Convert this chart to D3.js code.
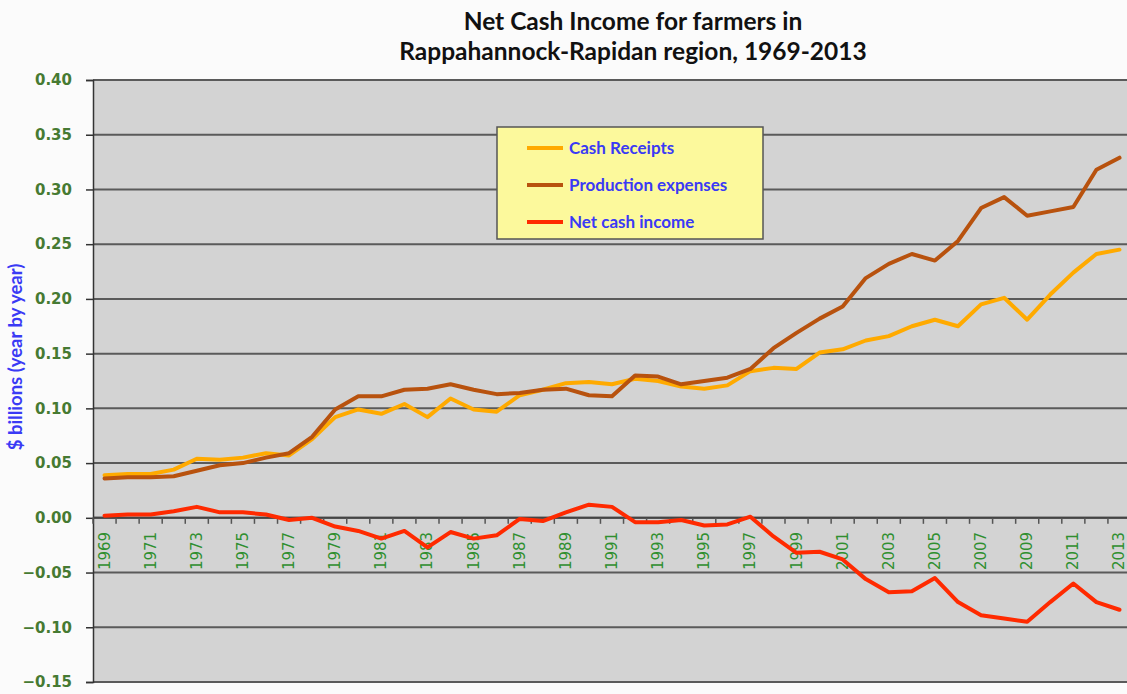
<!DOCTYPE html>
<html>
<head>
<meta charset="utf-8">
<script src="https://cdn.jsdelivr.net/npm/d3@7/dist/d3.min.js"></script>
<style>
  html, body { margin: 0; padding: 0; background: #fbfbfb; }
  svg { display: block; }
</style>
</head>
<body>
<svg id="chart" width="1127" height="694"></svg>
<script>
// Farm income, Rappahannock-Rapidan region ($ billions)
const years = d3.range(1969, 2014);

const cashReceipts = [
  0.039, 0.040, 0.040, 0.044, 0.054, 0.053, 0.055, 0.059, 0.057, 0.072,
  0.092, 0.099, 0.095, 0.104, 0.092, 0.109, 0.099, 0.097, 0.112, 0.117,
  0.123, 0.124, 0.122, 0.127, 0.125, 0.120, 0.118, 0.121, 0.134, 0.137,
  0.136, 0.151, 0.154, 0.162, 0.166, 0.175, 0.181, 0.175, 0.195, 0.201,
  0.181, 0.204, 0.224, 0.241, 0.245
];

const productionExpenses = [
  0.036, 0.037, 0.037, 0.038, 0.043, 0.048, 0.050, 0.055, 0.059, 0.074,
  0.099, 0.111, 0.111, 0.117, 0.118, 0.122, 0.117, 0.113, 0.114, 0.117,
  0.118, 0.112, 0.111, 0.130, 0.129, 0.122, 0.125, 0.128, 0.136, 0.155,
  0.169, 0.182, 0.193, 0.219, 0.232, 0.241, 0.235, 0.253, 0.283, 0.293,
  0.276, 0.280, 0.284, 0.318, 0.329
];

const netCashIncome = [
  0.002, 0.003, 0.003, 0.006, 0.010, 0.005, 0.005, 0.003, -0.002, 0.000,
  -0.008, -0.012, -0.019, -0.012, -0.027, -0.013, -0.019, -0.016, -0.001, -0.003,
  0.005, 0.012, 0.010, -0.004, -0.004, -0.002, -0.007, -0.006, 0.001, -0.017,
  -0.032, -0.031, -0.038, -0.056, -0.068, -0.067, -0.055, -0.077, -0.089, -0.092,
  -0.095, -0.077, -0.060, -0.077, -0.084
];

const seriesNames = ["Cash Receipts", "Production expenses", "Net cash income"];
const seriesColors = ["#ffaa00", "#b8520e", "#ff2a00"];
const yTicks = [-0.15, -0.10, -0.05, 0.00, 0.05, 0.10, 0.15, 0.20, 0.25, 0.30, 0.35, 0.40];
const titleLines = ["Net Cash Income for farmers in", "Rappahannock-Rapidan region, 1969-2013"];
const yTitle = "$ billions (year by year)";

const series = [cashReceipts, productionExpenses, netCashIncome].map((vals, i) => ({
  name: seriesNames[i],
  color: seriesColors[i],
  values: vals.map((v, j) => ({ year: years[j], value: v }))
}));

const svg = d3.select("#chart");
const plot = { left: 93, top: 80, right: 1131, bottom: 682 };

const x = d3.scaleBand()
  .domain(years)
  .range([plot.left, plot.right])
  .paddingInner(0).paddingOuter(0);

const y = d3.scaleLinear()
  .domain([-0.15, 0.40])
  .range([plot.bottom, plot.top]);

const cx = d => x(d) + x.bandwidth() / 2;

// Title
svg.append("g")
  .selectAll("text")
  .data(titleLines)
  .join("text")
  .attr("x", 633)
  .attr("y", (d, i) => 30 + i * 30)
  .attr("text-anchor", "middle")
  .attr("font-family", "Lato, 'Open Sans', sans-serif")
  .attr("font-weight", "bold")
  .attr("font-size", 24.5)
  .attr("fill", "#111")
  .text(d => d);

// Plot background
svg.append("rect")
  .attr("x", plot.left)
  .attr("y", plot.top)
  .attr("width", plot.right - plot.left)
  .attr("height", plot.bottom - plot.top)
  .attr("fill", "#d3d3d3");

// Horizontal gridlines
svg.append("g")
  .selectAll("line")
  .data(yTicks)
  .join("line")
  .attr("x1", plot.left)
  .attr("x2", plot.right)
  .attr("y1", d => y(d))
  .attr("y2", d => y(d))
  .attr("stroke", "#5a5a5a")
  .attr("stroke-width", 2);

// Y axis
const yAxis = d3.axisLeft(y)
  .tickValues(yTicks)
  .tickFormat(d3.format(".2f"))
  .tickSize(7)
  .tickPadding(14);

const gy = svg.append("g")
  .attr("transform", `translate(${plot.left},0)`)
  .call(yAxis);
gy.select(".domain").attr("stroke", "#333").attr("stroke-width", 1.5);
gy.selectAll(".tick line").attr("stroke", "#333").attr("stroke-width", 1.5);
gy.selectAll(".tick text")
  .attr("font-family", "'DejaVu Sans', sans-serif")
  .attr("font-weight", "bold")
  .attr("font-size", 15)
  .attr("fill", "#467a32");

// Y axis title
svg.append("text")
  .attr("transform", `translate(22,357) rotate(-90)`)
  .attr("text-anchor", "middle")
  .attr("font-family", "Lato, 'Open Sans', sans-serif")
  .attr("font-weight", "bold")
  .attr("font-size", 18.5)
  .attr("fill", "#3a3af5")
  .text(yTitle);

// X axis along zero line: ticks at category boundaries, labels every other year
const gx = svg.append("g")
  .attr("transform", `translate(0,${y(0)})`);

gx.append("line")
  .attr("x1", plot.left).attr("x2", plot.right)
  .attr("stroke", "#444").attr("stroke-width", 2);

gx.selectAll("line.tick")
  .data(years)
  .join("line")
  .attr("class", "tick")
  .attr("x1", d => x(d))
  .attr("x2", d => x(d))
  .attr("y1", 0)
  .attr("y2", 6)
  .attr("stroke", "#555")
  .attr("stroke-width", 1.5);

gx.selectAll("text")
  .data(years.filter((d, i) => i % 2 === 0))
  .join("text")
  .attr("transform", d => `translate(${cx(d) + 5},${14}) rotate(-90)`)
  .attr("text-anchor", "end")
  .attr("font-family", "'DejaVu Sans', sans-serif")
  .attr("font-size", 15)
  .attr("fill", "#2f8f2f")
  .text(d => d);

// Series lines
const line = d3.line()
  .x(d => cx(d.year))
  .y(d => y(d.value));

svg.append("g")
  .selectAll("path")
  .data(series)
  .join("path")
  .attr("d", d => line(d.values))
  .attr("fill", "none")
  .attr("stroke", d => d.color)
  .attr("stroke-width", 4)
  .attr("stroke-linejoin", "round")
  .attr("stroke-linecap", "round");

// Legend
const legend = svg.append("g").attr("transform", "translate(497,127)");
legend.append("rect")
  .attr("width", 266)
  .attr("height", 112)
  .attr("fill", "#fcf99c")
  .attr("stroke", "#555")
  .attr("stroke-width", 1.5);

const items = legend.selectAll("g.item")
  .data(series)
  .join("g")
  .attr("class", "item")
  .attr("transform", (d, i) => `translate(0,${21 + i * 37})`);

items.append("line")
  .attr("x1", 30).attr("x2", 66)
  .attr("stroke", d => d.color)
  .attr("stroke-width", 4);

items.append("text")
  .attr("x", 72)
  .attr("y", 6)
  .attr("font-family", "Lato, 'Open Sans', sans-serif")
  .attr("font-weight", "bold")
  .attr("font-size", 17)
  .attr("fill", "#3a3af5")
  .text(d => d.name);
</script>
</body>
</html>
